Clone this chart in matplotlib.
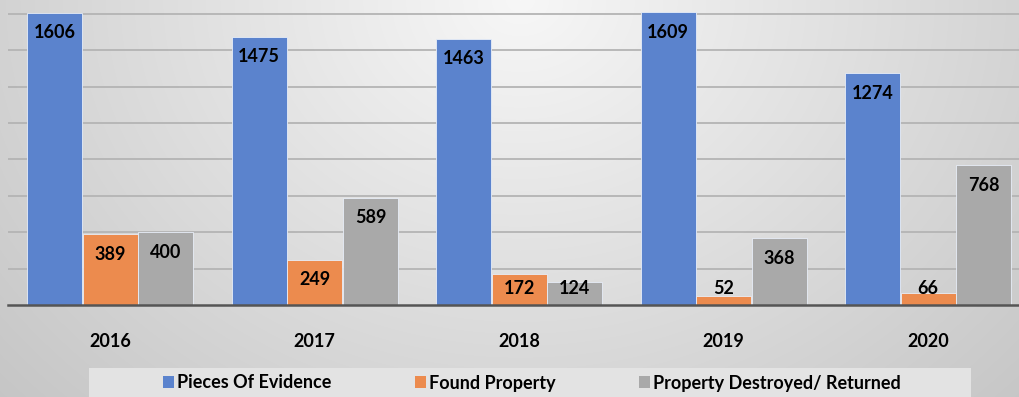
import numpy as np
import matplotlib
matplotlib.use("Agg")
import matplotlib.pyplot as plt
from matplotlib.patches import Rectangle

years = ["2016", "2017", "2018", "2019", "2020"]
evidence = [1606, 1475, 1463, 1609, 1274]
found = [389, 249, 172, 52, 66]
destroyed = [400, 589, 124, 368, 768]

series_names = ["Pieces Of Evidence", "Found Property", "Property Destroyed/ Returned"]
colors = ["#5b83cd", "#ec8b4e", "#a9a9a9"]

W, H = 1020, 397
fig = plt.figure(figsize=(W / 100, H / 100), dpi=100)

# soft gray radial backdrop
bg = fig.add_axes([0, 0, 1, 1], zorder=-10)
yy, xx = np.mgrid[0:H, 0:W]
d = np.sqrt(((xx - 520) / 600.0) ** 2 + (yy / 500.0) ** 2)
val = np.clip(247 - 42 * d, 190, 250) / 255.0
bg.imshow(np.dstack([val, val, val]), extent=[0, W, H, 0], aspect="auto")
bg.set_axis_off()

font = "Lato"
ax = fig.add_axes([8 / W, 92 / H, 1012 / W, 305 / H])
ax.patch.set_alpha(0)
x = np.arange(len(years))
offsets = [-0.272, 0.0, 0.272]
width = 0.27
for vals, off, col, name in zip([evidence, found, destroyed], offsets, colors, series_names):
    ax.bar(x + off, vals, width=width, color=col, edgecolor="#e8eef8", linewidth=0.6,
           label=name, zorder=3)
    for xi, v in zip(x, vals):
        ax.text(xi + off, max(v - 110, 88), str(v), ha="center", va="center",
                fontsize=13, fontweight="bold", family=font, color="black", zorder=4)

ax.set_xlim(-0.5, -0.5 + 1012 / 204.5)
ax.set_ylim(0, 1676)
ax.set_yticks(np.arange(200, 1601, 200))
ax.yaxis.grid(True, color="#b4b4b4", linewidth=1.3, zorder=0)
ax.tick_params(axis="y", left=False, labelleft=False)
ax.tick_params(axis="x", bottom=False, pad=17)
ax.set_xticks(x)
ax.set_xticklabels(years, fontsize=13, fontweight="bold", family=font)
for s in ["top", "right", "left"]:
    ax.spines[s].set_visible(False)
ax.spines["bottom"].set_color("#555555")
ax.spines["bottom"].set_linewidth(1.8)
ax.spines["bottom"].set_zorder(5)

# legend strip
fig.patches.append(Rectangle((89 / W, 0), (971 - 89) / W, (397 - 368) / H,
                             transform=fig.transFigure, facecolor="#e3e3e3",
                             edgecolor="none", zorder=-5))
handles, labels = ax.get_legend_handles_labels()
leg = fig.legend(handles, labels, loc="center", bbox_to_anchor=(532 / W, (397 - 383) / H),
                 ncol=3, frameon=False, handlelength=0.6, handleheight=0.6,
                 handletextpad=0.2, columnspacing=4.6,
                 prop={"family": font, "weight": "bold", "size": 13})
for h in leg.legend_handles:
    h.set_edgecolor("none")

fig.savefig("out.png", dpi=100)
